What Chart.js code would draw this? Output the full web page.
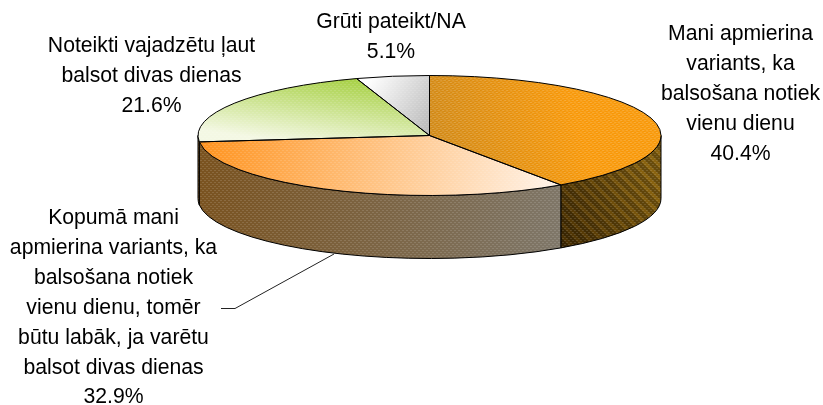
<!DOCTYPE html>
<html>
<head>
<meta charset="utf-8">
<style>
  html, body { margin: 0; padding: 0; background: #fff; }
  canvas { display: block; }
</style>
<script src="https://cdn.jsdelivr.net/npm/chart.js@4"></script>
</head>
<body>
<canvas id="myChart" width="823" height="405"></canvas>
<script>
// values in %, clockwise from 12 o'clock
const categories = [
  ['Mani apmierina', 'variants, ka', 'balsošana notiek', 'vienu dienu'],
  ['Kopumā mani', 'apmierina variants, ka', 'balsošana notiek', 'vienu dienu, tomēr', 'būtu labāk, ja varētu', 'balsot divas dienas'],
  ['Noteikti vajadzētu ļaut', 'balsot divas dienas'],
  ['Grūti pateikt/NA']
];
const values = [40.4, 32.9, 21.6, 5.1];

// where each label block goes: centre x, first baseline
const labelX = [740.5, 113.5, 151.5, 391];
const labelY = [40, 224, 52, 28];
const lineHeight = 29.9;

// pie geometry on the page
const CX = 429.5, CY = 135.5, RX = 231.5, RY = 60, DEPTH = 63;
const SQ = RY / RX;
const W = 823, H = 405;

const canvas = document.getElementById('myChart');
const ctx = canvas.getContext('2d');

// gradient + stripes + fine dots painted in page coordinates
function texture(g, stripe) {
  const c = document.createElement('canvas');
  c.width = W; c.height = H;
  const t = c.getContext('2d');
  const grad = t.createLinearGradient(g[0], g[1], g[2], g[3]);
  grad.addColorStop(0, g[4]);
  grad.addColorStop(1, g[5]);
  t.fillStyle = grad;
  t.fillRect(0, 0, W, H);
  if (stripe) {
    t.strokeStyle = stripe.color;
    t.lineWidth = stripe.width;
    const dx = H * stripe.slope;
    for (let x = -W - dx; x < W * 2 + dx; x += stripe.gap) {
      t.beginPath();
      t.moveTo(x, 0);
      t.lineTo(x + dx, H);
      t.stroke();
    }
  }
  t.fillStyle = 'rgba(255,255,255,0.13)';
  for (let y = 0; y < H; y += 2) {
    for (let x = (y % 4 ? 2 : 0); x < W; x += 4) t.fillRect(x, y, 2, 1);
  }
  return c;
}

// the pie is drawn under a y squash, so undo it for the fill patterns
function topFill(g, stripe) {
  const p = ctx.createPattern(texture(g, stripe), 'no-repeat');
  p.setTransform(new DOMMatrix().translate(0, CY).scale(1, 1 / SQ).translate(0, -CY));
  return p;
}

const topFills = [
  topFill([430, 135, 570, 95, '#ce8410', '#f89400'], { color: 'rgba(255,235,190,0.17)', width: 1, slope: 3.4, gap: 6 }),
  topFill([205, 130, 540, 205, '#ff9420', '#fff0e2']),
  topFill([360, 75, 350, 150, '#a2ce3a', '#f4f8e4']),
  topFill([365, 85, 430, 125, '#ffffff', '#bcbcbc'])
];

const wallFills = [
  texture([565, 240, 660, 190, '#4c3204', '#8a6410'], { color: 'rgba(0,0,0,0.25)', width: 5, slope: 1, gap: 12 }),
  texture([205, 160, 560, 230, '#7a5320', '#7f7769'], { color: 'rgba(255,255,255,0.08)', width: 5, slope: -3.6, gap: 15 }),
  texture([0, 0, 1, 0, '#7a5320', '#7a5320']),
  texture([0, 0, 1, 0, '#7a5320', '#7a5320'])
];

const pie3d = {
  id: 'pie3d',
  beforeDatasetsDraw(chart) {
    const c = chart.ctx;
    chart.getDatasetMeta(0).data.forEach((arc, i) => {
      // only the front half of the rim shows
      const a0 = Math.max(arc.startAngle, 0);
      const a1 = Math.min(arc.endAngle, Math.PI);
      if (a1 <= a0) return;
      c.beginPath();
      c.ellipse(arc.x, arc.y, arc.outerRadius, arc.outerRadius * SQ, 0, a0, a1);
      c.ellipse(arc.x, arc.y + DEPTH, arc.outerRadius, arc.outerRadius * SQ, 0, a1, a0, true);
      c.closePath();
      c.fillStyle = c.createPattern(wallFills[i], 'no-repeat');
      c.fill();
      c.strokeStyle = '#000';
      c.lineWidth = 1;
      c.stroke();
    });
    c.save();
    c.translate(0, CY);
    c.scale(1, SQ);
    c.translate(0, -CY);
  },
  afterDatasetsDraw(chart) {
    const c = chart.ctx;
    c.restore();
    const arcs = chart.getDatasetMeta(0).data;
    c.strokeStyle = '#000';
    c.lineWidth = 1;
    arcs.forEach(arc => {
      c.beginPath();
      c.moveTo(arc.x, arc.y);
      c.ellipse(arc.x, arc.y, arc.outerRadius, arc.outerRadius * SQ, 0, arc.startAngle, arc.endAngle);
      c.closePath();
      c.stroke();
    });

    // leader line for the long label
    c.strokeStyle = '#222';
    c.beginPath();
    c.moveTo(221, 308.5);
    c.lineTo(235, 308.5);
    c.lineTo(334, 254);
    c.stroke();

    c.fillStyle = '#000';
    c.font = '21.2px "Liberation Sans", Arial, sans-serif';
    c.textAlign = 'center';
    c.textBaseline = 'alphabetic';
    categories.forEach((lines, i) => {
      const all = lines.concat(values[i].toFixed(1) + '%');
      all.forEach((line, j) => c.fillText(line, labelX[i], labelY[i] + j * lineHeight));
    });
  }
};

const myChart = new Chart(ctx, {
  type: 'pie',
  data: {
    labels: categories.map(l => l.join(' ')),
    datasets: [{
      data: values,
      backgroundColor: topFills,
      borderWidth: 0,
      clip: false
    }]
  },
  options: {
    responsive: false,
    animation: false,
    radius: RX,
    layout: {
      // puts the chart area centre on CX, CY
      padding: { left: CX * 2 - W, right: 0, top: 0, bottom: H - CY * 2 }
    },
    plugins: {
      legend: { display: false },
      tooltip: { enabled: false }
    }
  },
  plugins: [pie3d]
});
</script>
</body>
</html>
